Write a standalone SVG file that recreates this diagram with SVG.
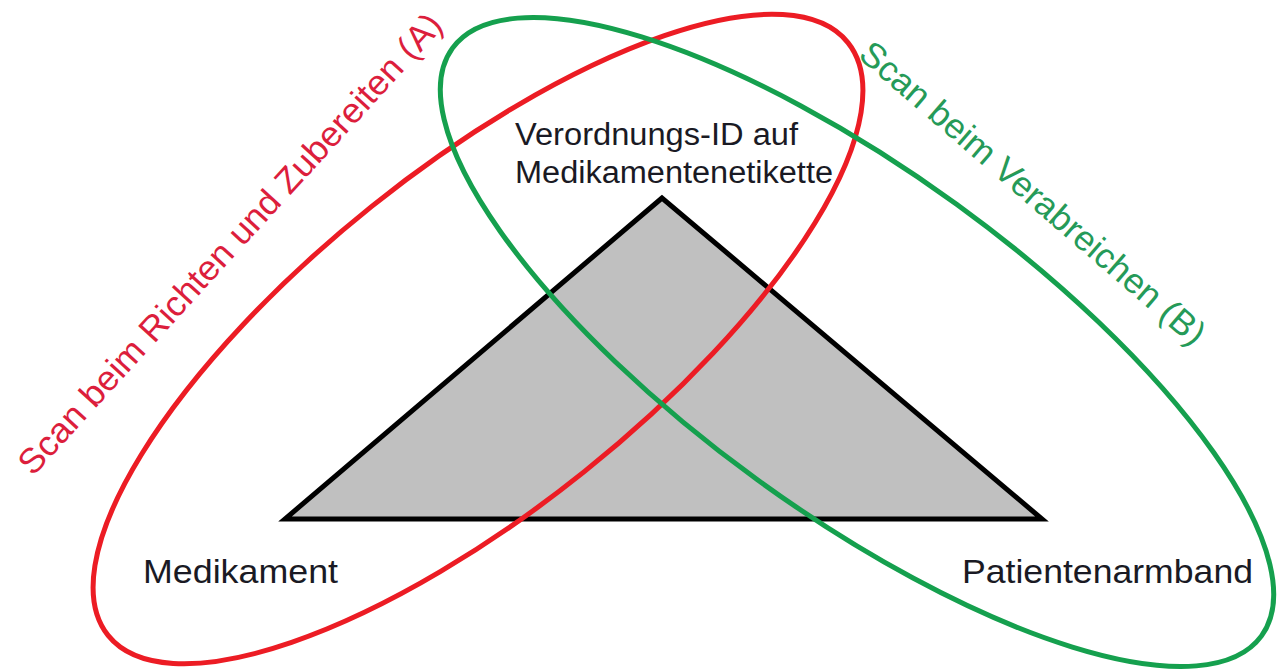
<svg xmlns="http://www.w3.org/2000/svg" width="1279" height="672" viewBox="0 0 1279 672">
  <style>
    .lbl { font-family: "Liberation Sans", Arial, sans-serif; fill: #1a1a24; }
    .ring { fill: none; stroke-width: 5; }
  </style>
  <rect x="0" y="0" width="1279" height="672" fill="#ffffff"/>
  <g id="triangle">
    <polygon points="662,198 285,519 1042,519" fill="#c0c0c0" stroke="#000000" stroke-width="5" stroke-linejoin="miter"/>
  </g>
  <g id="connectors">
    <ellipse id="scanA" class="ring" cx="478" cy="339" rx="474" ry="170" transform="rotate(-38.7 478 339)" stroke="#ec1c24"/>
    <ellipse id="scanB" class="ring" cx="857" cy="342" rx="500" ry="170" transform="rotate(36 857 342)" stroke="#15a04e"/>
  </g>
  <g id="node-verordnung">
    <text class="lbl" x="515" y="145" font-size="31" textLength="283" lengthAdjust="spacingAndGlyphs">Verordnungs-ID auf</text>
    <text class="lbl" x="515" y="183" font-size="31" textLength="318" lengthAdjust="spacingAndGlyphs">Medikamentenetikette</text>
  </g>
  <g id="node-medikament">
    <text class="lbl" x="143" y="583" font-size="34" textLength="195" lengthAdjust="spacingAndGlyphs">Medikament</text>
  </g>
  <g id="node-patient">
    <text class="lbl" x="962" y="583" font-size="34" textLength="291" lengthAdjust="spacingAndGlyphs">Patientenarmband</text>
  </g>
  <g id="label-A">
    <text x="33" y="477" font-family="'Liberation Sans', Arial, sans-serif" font-size="35" fill="#dc1e3c" textLength="610" lengthAdjust="spacingAndGlyphs" transform="rotate(-47.6 33 477)">Scan beim Richten und Zubereiten (A)</text>
  </g>
  <g id="label-B">
    <text x="857" y="57" font-family="'Liberation Sans', Arial, sans-serif" font-size="35" fill="#259a58" textLength="444" lengthAdjust="spacingAndGlyphs" transform="rotate(40.8 857 57)">Scan beim Verabreichen (B)</text>
  </g>
</svg>
